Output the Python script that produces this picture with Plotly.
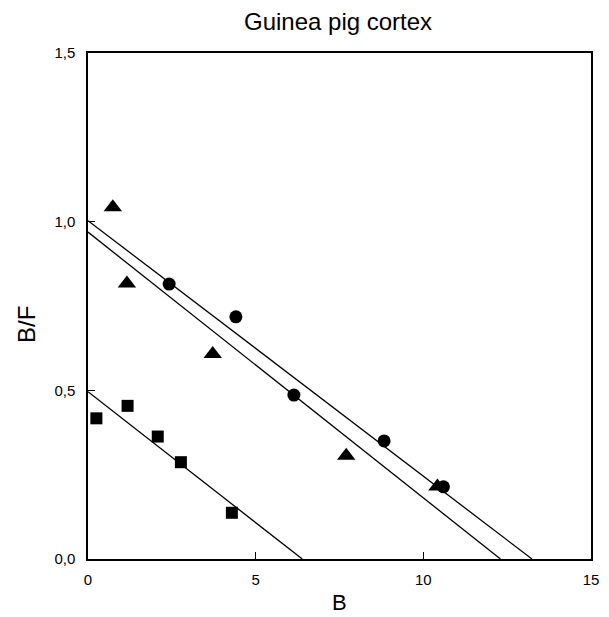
import plotly.graph_objects as go

# Data
tri_x = [0.74, 1.16, 3.72, 7.70, 10.42]
tri_y = [1.043, 0.817, 0.608, 0.306, 0.215]
circ_x = [2.42, 4.41, 6.14, 8.83, 10.60]
circ_y = [0.815, 0.718, 0.486, 0.350, 0.214]
sq_x = [0.25, 1.18, 2.08, 2.77, 4.29]
sq_y = [0.417, 0.454, 0.363, 0.287, 0.137]

# Regression lines: y-intercept and x-intercept
line_y0 = [1.003, 0.969, 0.496]
line_x0 = [13.24, 12.30, 6.39]

x_ticks = [0, 5, 10, 15]
y_ticks = [0.0, 0.5, 1.0, 1.5]

FONT = "Liberation Sans, Arial, sans-serif"

fig = go.Figure()

for y0, x0 in zip(line_y0, line_x0):
    fig.add_trace(go.Scatter(x=[0, x0], y=[y0, 0], mode="lines",
                             line=dict(color="black", width=1.3),
                             showlegend=False, hoverinfo="skip"))

fig.add_trace(go.Scatter(x=sq_x, y=sq_y, mode="markers",
                         marker=dict(symbol="square", size=12, color="black"),
                         showlegend=False))
fig.add_trace(go.Scatter(x=tri_x, y=tri_y, mode="markers",
                         marker=dict(symbol="triangle-up", size=16, color="black"),
                         showlegend=False))
fig.add_trace(go.Scatter(x=circ_x, y=circ_y, mode="markers",
                         marker=dict(symbol="circle", size=13, color="black"),
                         showlegend=False))

L, R, T, B = 88, 10, 53, 58
W, H = 609, 617
pw, ph = W - L - R, H - T - B


def px2paper(px, py):
    return (px - L) / pw, (H - B - py) / ph


ann_specs = [
    ("Guinea pig cortex", 342, 22, 24, 0),
    ("B/F", 25, 324, 24, -90),
    ("B", 343, 602, 22, 0),
]
anns = []
for text, px, py, size, ang in ann_specs:
    x, y = px2paper(px, py)
    anns.append(dict(text=text, x=x, y=y, xref="paper", yref="paper",
                     xanchor="center", yanchor="middle", showarrow=False,
                     textangle=ang, font=dict(size=size, family=FONT, color="black")))

fig.update_layout(
    width=W, height=H,
    margin=dict(l=L, r=R, t=T, b=B),
    paper_bgcolor="white", plot_bgcolor="white",
    separators=",.",
    font=dict(family=FONT, color="black", size=15),
    showlegend=False,
    annotations=anns,
)

fig.update_xaxes(range=[0, 15], tickvals=x_ticks, ticktext=[str(v) for v in x_ticks],
                 ticks="inside", ticklen=7, tickwidth=1.3, tickcolor="black",
                 ticklabelstandoff=6,
                 showline=True, linewidth=1.5, linecolor="black", mirror=True,
                 showgrid=False, zeroline=False,
                 tickfont=dict(size=15, family=FONT))
fig.update_yaxes(range=[0, 1.5], tickvals=y_ticks, tickformat=".1f",
                 ticks="inside", ticklen=7, tickwidth=1.3, tickcolor="black",
                 ticklabelstandoff=8,
                 showline=True, linewidth=1.5, linecolor="black", mirror=True,
                 showgrid=False, zeroline=False,
                 tickfont=dict(size=15, family=FONT))

fig.write_html("out.html")
